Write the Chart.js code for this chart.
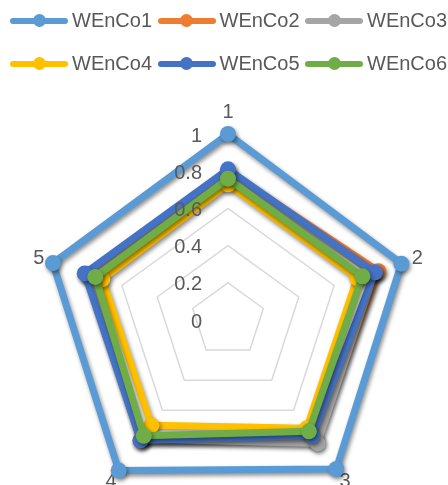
<!DOCTYPE html>
<html>
<head>
<meta charset="utf-8">
<script src="https://cdn.jsdelivr.net/npm/chart.js@4/dist/chart.umd.min.js"></script>
<style>
  html, body { margin: 0; padding: 0; width: 448px; height: 485px; overflow: hidden; background: #fff; }
  #wrap { position: relative; width: 448px; height: 512px; }
  #chart { position: absolute; left: 0; top: 0; }
  #legend { position: absolute; left: 10px; top: -1px; width: 460px; font: 20px 'Liberation Sans', Arial, sans-serif; color: #595959; }
  .row { display: flex; height: 43px; align-items: center; }
  .item { display: flex; align-items: center; width: 147.5px; flex: none; white-space: nowrap; }
  .sw { position: relative; width: 58px; height: 14px; margin-right: 4px; flex: none; }
  .sw::before { content: ''; position: absolute; left: 0; right: 0; top: 4px; height: 6px; border-radius: 3px; background: var(--c); }
  .sw i { position: absolute; left: 22.5px; top: 0.5px; width: 13px; height: 13px; border-radius: 50%; background: var(--c); }
</style>
</head>
<body>
<div id="wrap">
  <canvas id="chart" width="448" height="512"></canvas>
  <div id="legend"></div>
</div>
<script>
const AXES = ['1', '2', '3', '4', '5'];
const SERIES = ['WEnCo1', 'WEnCo2', 'WEnCo3', 'WEnCo4', 'WEnCo5', 'WEnCo6'];
const WENCO1 = [1.00, 0.98, 0.99, 1.00, 0.99];
const WENCO2 = [0.80, 0.85, 0.80, 0.80, 0.80];
const WENCO3 = [0.78, 0.83, 0.82, 0.79, 0.79];
const WENCO4 = [0.73, 0.73, 0.72, 0.70, 0.71];
const WENCO5 = [0.81, 0.83, 0.77, 0.80, 0.81];
const WENCO6 = [0.76, 0.76, 0.74, 0.77, 0.75];
const TICK_MIN = 0, TICK_MAX = 1, TICK_STEP = 0.2;

const COLORS = ['#5B9BD5', '#ED7D31', '#A5A5A5', '#FFC000', '#4472C4', '#70AD47'];
const VALUES = [WENCO1, WENCO2, WENCO3, WENCO4, WENCO5, WENCO6];
const TEXT = '#595959';
const FONT = "20px 'Liberation Sans', Arial, sans-serif";

// excel-ish outer shadow under each series
const shadowPlugin = {
  id: 'shadow',
  beforeDatasetDraw(chart) {
    const c = chart.ctx;
    c.save();
    c.shadowColor = 'rgba(0,0,0,0.45)';
    c.shadowBlur = 4;
    c.shadowOffsetX = 1.5;
    c.shadowOffsetY = 2.5;
  },
  afterDatasetDraw(chart) { chart.ctx.restore(); },
};

// category labels sit under the series, value labels are painted over them
const labelsPlugin = {
  id: 'radarText',
  beforeDatasetsDraw(chart) {
    const s = chart.scales.r;
    const c = chart.ctx;
    c.save();
    c.font = FONT;
    c.fillStyle = TEXT;
    c.textBaseline = 'middle';
    c.textAlign = 'center';
    AXES.forEach((lbl, i) => {
      const p = s.getPointPosition(i, s.drawingArea + (i === 0 ? 22 : 13));
      c.fillText(lbl, p.x, p.y);
    });
    c.restore();
  },
  afterDatasetsDraw(chart) {
    const s = chart.scales.r;
    const c = chart.ctx;
    c.save();
    c.font = FONT;
    c.fillStyle = TEXT;
    c.textBaseline = 'middle';
    c.textAlign = 'right';
    s.ticks.forEach(t => {
      const y = s.yCenter - s.getDistanceFromCenterForValue(t.value);
      c.fillText(String(Math.round(t.value * 10) / 10), s.xCenter - 26, y + 2);
    });
    c.restore();
  },
};

const chart = new Chart(document.getElementById('chart'), {
  type: 'radar',
  data: {
    labels: AXES,
    datasets: SERIES.map((name, i) => ({
      label: name,
      data: VALUES[i],
      borderColor: COLORS[i],
      backgroundColor: COLORS[i],
      pointBackgroundColor: COLORS[i],
      pointBorderWidth: 0,
      pointRadius: 8,
      borderWidth: 7,
      borderJoinStyle: 'round',
      fill: false,
      order: SERIES.length - i,
    })),
  },
  options: {
    responsive: false,
    animation: false,
    layout: { padding: { left: 8, right: 0, top: 134, bottom: 6 } },
    plugins: { legend: { display: false }, tooltip: { enabled: false } },
    scales: {
      r: {
        min: TICK_MIN,
        max: TICK_MAX,
        ticks: { stepSize: TICK_STEP, display: false },
        grid: { color: '#D9D9D9', lineWidth: 1.5 },
        angleLines: { display: false },
        pointLabels: { display: false },
      },
    },
  },
  plugins: [shadowPlugin, labelsPlugin],
});

// html legend, two rows of three like the excel original
const legendEl = document.getElementById('legend');
for (let r = 0; r < 2; r++) {
  const row = document.createElement('div');
  row.className = 'row';
  chart.data.datasets.slice(r * 3, r * 3 + 3).forEach(ds => {
    const item = document.createElement('div');
    item.className = 'item';
    item.innerHTML = `<span class="sw" style="--c:${ds.borderColor}"><i></i></span><span>${ds.label}</span>`;
    row.appendChild(item);
  });
  legendEl.appendChild(row);
}
</script>
</body>
</html>
